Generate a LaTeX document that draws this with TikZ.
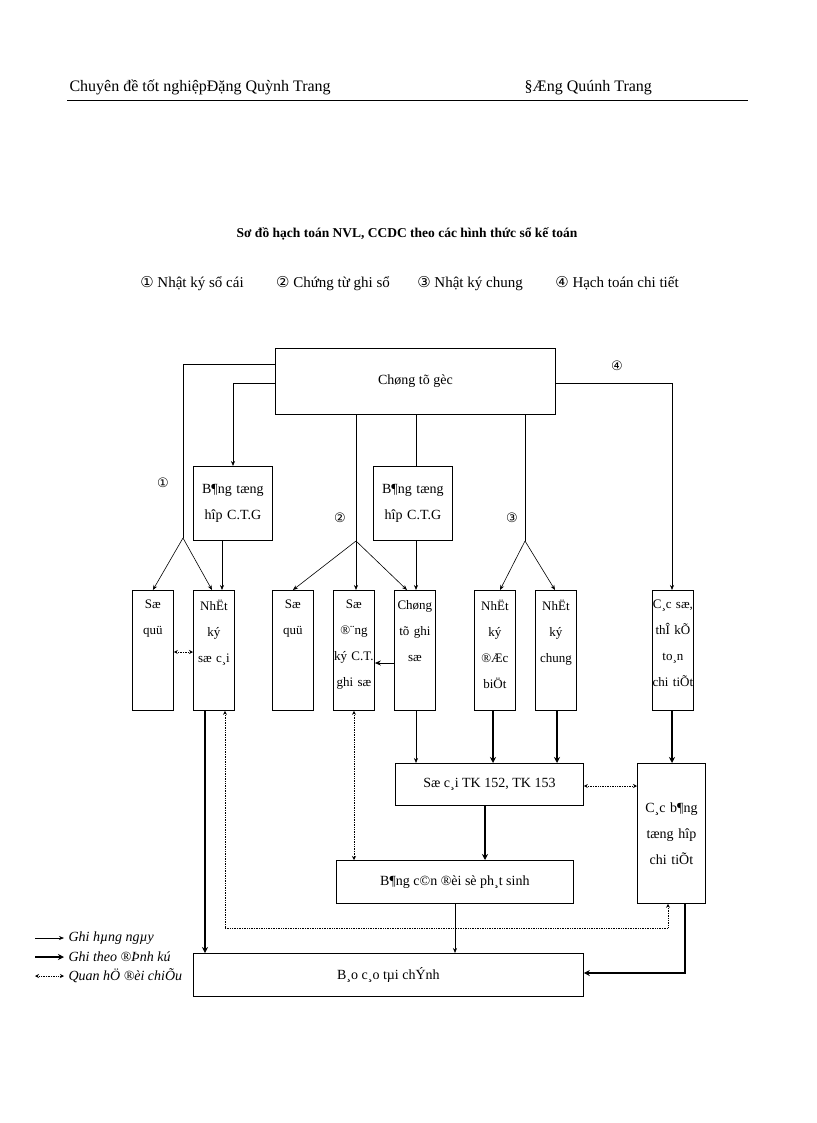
\documentclass[tikz,border=0pt]{standalone}
\usepackage{fontspec}
\setmainfont{Liberation Serif}
\newfontfamily\cfont{DejaVu Sans}
\usetikzlibrary{arrows.meta}
\begin{document}
\begin{tikzpicture}[x=1pt,y=-1pt,
  bx/.style={draw,line width=0.8pt,align=center,inner sep=0pt,font=\fontsize{14}{19}\selectfont},
  tall/.style={draw,line width=0.8pt,minimum width=41pt,minimum height=120pt,anchor=north west,inner sep=0pt},
  tx/.style={anchor=north,align=center,inner sep=0pt,text width=44pt,font=\fontsize{13}{26}\selectfont},
  th/.style={-{Stealth[length=5pt,width=4pt]},line width=0.6pt},
  tk/.style={-{Stealth[length=6pt,width=6pt]},line width=1.8pt},
  dt/.style={{Stealth[length=4pt,width=4pt]}-{Stealth[length=4pt,width=4pt]},densely dotted,line width=0.7pt},
  dto/.style={-{Stealth[length=4pt,width=4pt]},densely dotted,line width=0.7pt},
  ln/.style={line width=0.6pt},
  cn/.style={font=\cfont\fontsize{13}{14}\selectfont}]
\useasboundingbox (0,0) rectangle (816,1123);
\node[anchor=base west,font=\fontsize{16}{18}\selectfont] (h1) at (66,92) {Chuyên đề tốt nghiệpĐặng Quỳnh Trang};
\node[anchor=base west,font=\fontsize{16}{18}\selectfont] (h2) at (521,92) {§Æng Quúnh Trang};
\draw[line width=0.8pt] (67,100) -- (748,100);
\node[font=\bfseries\fontsize{13.5}{16}\selectfont] (title) at (407,234) {Sơ đồ hạch toán NVL, CCDC theo các hình thức sổ kế toán};
\node[anchor=base,font=\fontsize{15}{17}\selectfont] (l1) at (192,287) {{\cfont ①} Nhật ký sổ cái};
\node[anchor=base,font=\fontsize{15}{17}\selectfont] (l2) at (333,287) {{\cfont ②} Chứng từ ghi sổ};
\node[anchor=base,font=\fontsize{15}{17}\selectfont] (l3) at (470,287) {{\cfont ③} Nhật ký chung};
\node[anchor=base,font=\fontsize{15}{17}\selectfont] (l4) at (617,287) {{\cfont ④} Hạch toán chi tiết};

\node[bx,minimum width=280pt,minimum height=66pt,anchor=north west] (ctg) at (275,348) {Chøng tõ gèc};
\node[bx,minimum width=79pt,minimum height=74pt,anchor=north west,text width=72pt,font=\fontsize{14}{26}\selectfont] (bth1) at (193,466) {B¶ng tæng\\hîp C.T.G};
\node[bx,minimum width=79pt,minimum height=74pt,anchor=north west,text width=72pt,font=\fontsize{14}{26}\selectfont] (bth2) at (373,466) {B¶ng tæng\\hîp C.T.G};
\node[tall] (sq1) at (132,590) {};
\node[tall] (nksc) at (193,590) {};
\node[tall] (sq2) at (272,590) {};
\node[tall] (sodk) at (333,590) {};
\node[tall] (ctgs) at (394,590) {};
\node[tall] (nkdb) at (474,590) {};
\node[tall] (nkc) at (535,590) {};
\node[tall] (cacso) at (652,590) {};
\node[tx] (t1) at ([yshift=-10pt]sq1.north) {Sæ\\quü};
\node[tx] (t2) at ([yshift=-10pt]nksc.north) {NhËt\\ký\\sæ c¸i};
\node[tx] (t3) at ([yshift=-10pt]sq2.north) {Sæ\\quü};
\node[tx] (t4) at ([yshift=-10pt]sodk.north) {Sæ\\®¨ng\\ký C.T.\\ghi sæ};
\node[tx] (t5) at ([yshift=-10pt]ctgs.north) {Chøng\\tõ ghi\\sæ};
\node[tx] (t6) at ([yshift=-10pt]nkdb.north) {NhËt\\ký\\®Æc\\biÖt};
\node[tx] (t7) at ([yshift=-10pt]nkc.north) {NhËt\\ký\\chung};
\node[tx] (t8) at ([yshift=-10pt]cacso.north) {C¸c sæ,\\thÎ kÕ\\to¸n\\chi tiÕt};
\node[bx,minimum width=188pt,minimum height=42pt,anchor=north west] (soca) at (395,763) {Sæ c¸i TK 152, TK 153};
\node[bx,minimum width=68pt,minimum height=140pt,anchor=north west,text width=68pt,font=\fontsize{14}{26}\selectfont] (cbth) at (637,763) {C¸c b¶ng\\tæng hîp\\chi tiÕt};
\node[bx,minimum width=237pt,minimum height=43pt,anchor=north west] (cdps) at (336,860) {B¶ng c©n ®èi sè ph¸t sinh};
\node[bx,minimum width=390pt,minimum height=43pt,anchor=north west] (bc) at (193,953) {B¸o c¸o tµi chÝnh};

\node[cn] (c1) at (163,483) {①};
\node[cn] (c2) at (340,518) {②};
\node[cn] (c3) at (512,518) {③};
\node[cn] (c4) at (617,366) {④};

% branch 1
\coordinate (f1) at (183,538);
\draw[ln] (ctg.north west |- 0,364) -- (183,364) -- (f1);
\draw[th] (f1) -- (sq1.north);
\draw[th] (f1) -- (212,590);
\draw[th] (ctg.north west |- 0,383) -- (233,383) -- (bth1.north -| 233,0);
\draw[th] (222,540) -- (222,590);
% branch 2
\coordinate (f2) at (356,541);
\draw[ln] (ctg.south -| 356,0) -- (f2);
\draw[th] (f2) -- (sq2.north);
\draw[th] (f2) -- (sodk.north -| f2);
\draw[th] (f2) -- (407,590);
\draw[ln] (ctg.south -| 416,0) -- (bth2.north -| 416,0);
\draw[th] (bth2.south -| 416,0) -- (416,590);
\draw[-{Stealth[length=6pt,width=5pt]},line width=1pt] (ctgs.west |- 0,663) -- (sodk.east |- 0,663);
% branch 3
\coordinate (f3) at (525,541);
\draw[ln] (ctg.south -| 525,0) -- (f3);
\draw[th] (f3) -- (500,590);
\draw[th] (f3) -- (555,590);
% branch 4
\draw[th] (ctg.east |- 0,383) -- (672,383) -- (cacso.north -| 672,0);

\draw[dt] (sq1.east |- 0,652) -- (nksc.west |- 0,652);
\draw[th] (ctgs.south -| 416,0) -- (soca.north -| 416,0);
\draw[tk] (nkdb.south -| 493,0) -- (soca.north -| 493,0);
\draw[tk] (nkc.south -| 557,0) -- (soca.north -| 557,0);
\draw[tk] (cacso.south -| 672,0) -- (cbth.north -| 672,0);
\draw[dt] (soca.east |- 0,786) -- (cbth.west |- 0,786);
\draw[tk] (soca.south -| 485,0) -- (cdps.north -| 485,0);
\draw[th] (cdps.south -| 455,0) -- (bc.north -| 455,0);
\draw[tk] (nksc.south -| 205,0) -- (bc.north -| 205,0);
\draw[dt] (sodk.south -| 354,0) -- (cdps.north -| 354,0);
\coordinate (dL) at (225,928);
\coordinate (dR) at (668,928);
\draw[dto] (dL) -- (nksc.south -| dL);
\draw[dto] (dL) -- (dR) -- (cbth.south -| dR);
\draw[tk] (cbth.south -| 685,0) -- (685,973) -- (bc.east |- 0,973);

% legend
\coordinate (a1) at (35,938); \coordinate (b1) at (64,938);
\coordinate (a2) at (35,957); \coordinate (b2) at (64,957);
\coordinate (a3) at (35,976); \coordinate (b3) at (64,976);
\draw[th] (a1) -- (b1);
\draw[tk] (a2) -- (b2);
\draw[dt] (a3) -- (b3);
\node[anchor=west,font=\itshape\fontsize{14}{16}\selectfont] (g1) at (65,938) {Ghi hµng ngµy};
\node[anchor=west,font=\itshape\fontsize{14}{16}\selectfont] (g2) at (65,957) {Ghi theo ®Þnh kú};
\node[anchor=west,font=\itshape\fontsize{14}{16}\selectfont] (g3) at (65,976) {Quan hÖ ®èi chiÕu};
\end{tikzpicture}
\end{document}
